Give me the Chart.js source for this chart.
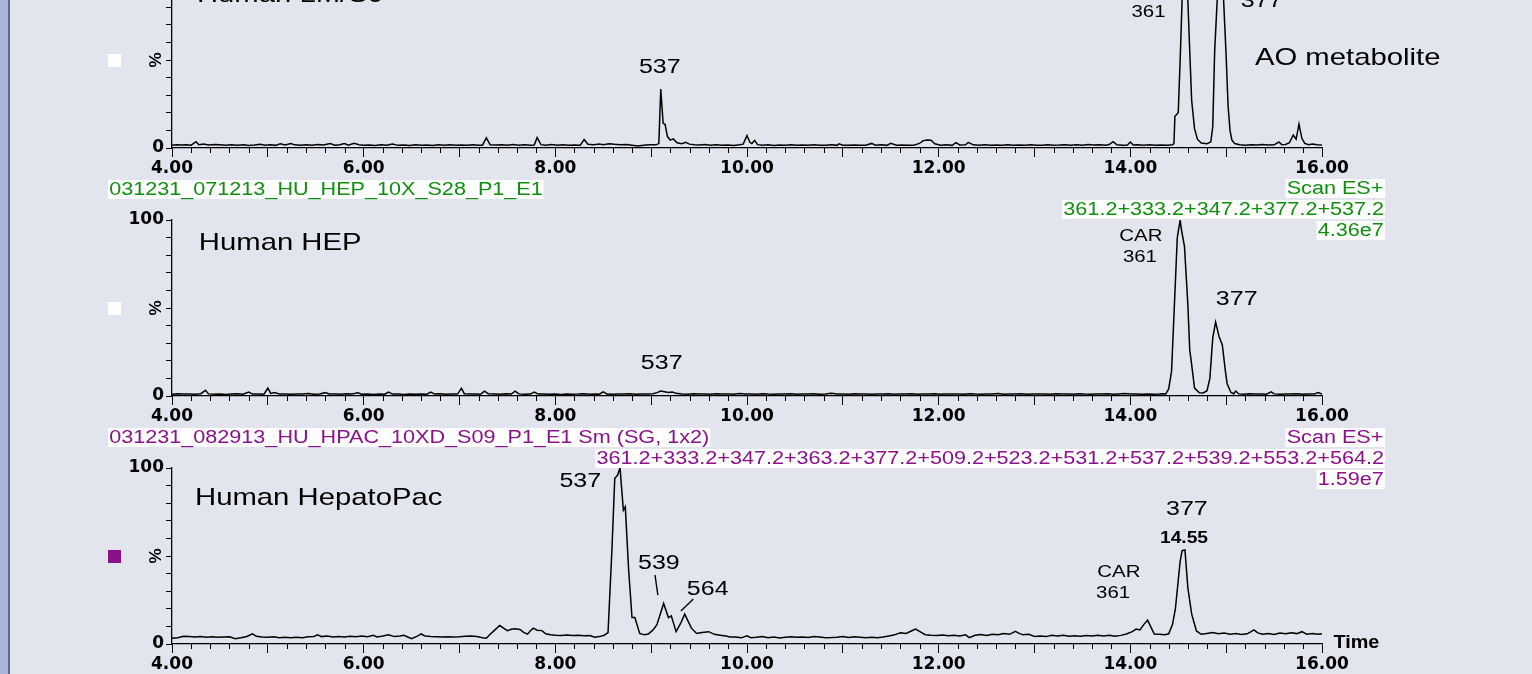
<!DOCTYPE html>
<html>
<head>
<meta charset="utf-8">
<script src="https://cdn.jsdelivr.net/npm/chart.js@4.4.1/dist/chart.umd.min.js"></script>
<style>
  html, body { margin: 0; padding: 0; }
  body { width: 1532px; height: 674px; background: #e2e5ee; position: relative; overflow: hidden;
         font-family: 'Liberation Sans', Arial, sans-serif; }
  .strip { position: absolute; top: 0; left: 0; width: 8px; height: 674px; background: #aab5db; }
  .strip2 { position: absolute; top: 0; left: 8px; width: 2px; height: 674px; background: #5d678a; }
  canvas.panel { position: absolute; left: 0; }
  .hdr { position: absolute; background: #fff; font-size: 18px; line-height: 19px; height: 19px;
         white-space: nowrap; padding: 0 1px; z-index: 5; }
  .hdr.l { transform: scaleX(1.2); transform-origin: 0 50%; }
  .hdr.r { transform: scaleX(1.2); transform-origin: 100% 50%; }
  .green { color: #0f8f0f; }
  .purple { color: #8b118b; }
</style>
</head>
<body>
<div class="strip"></div><div class="strip2"></div>
<canvas id="c1" class="panel" width="1532" height="252"></canvas>
<canvas id="c2" class="panel" width="1532" height="252"></canvas>
<canvas id="c3" class="panel" width="1532" height="252"></canvas>

<div class="hdr l green" style="left:108px;top:180px;">031231_071213_HU_HEP_10X_S28_P1_E1</div>
<div class="hdr r green" style="right:147px;top:179px;">Scan ES+</div>
<div class="hdr r green" style="right:147px;top:200px;">361.2+333.2+347.2+377.2+537.2</div>
<div class="hdr r green" style="right:147px;top:221px;">4.36e7</div>

<div class="hdr l purple" style="left:108px;top:428px;">031231_082913_HU_HPAC_10XD_S09_P1_E1 Sm (SG, 1x2)</div>
<div class="hdr r purple" style="right:147px;top:428px;">Scan ES+</div>
<div class="hdr r purple" style="right:147px;top:449px;">361.2+333.2+347.2+363.2+377.2+509.2+523.2+531.2+537.2+539.2+553.2+564.2</div>
<div class="hdr r purple" style="right:147px;top:470px;">1.59e7</div>

<script>
// ---------------- DATA ----------------
const xTickMin = 4, xTickMax = 16;
const yTickLabels = ['0', '100'];

// Panel 1: Human LM/S9 (retention time, min / relative intensity, %)
const hlmTime = [4.00,4.05,4.10,4.15,4.20,4.25,4.28,4.33,4.38,4.45,4.50,4.56,4.62,4.68,4.75,4.80,4.86,4.92,4.97,5.03,
  5.08,5.13,5.18,5.24,5.28,5.34,5.40,5.46,5.52,5.58,5.65,5.70,5.75,5.80,5.84,5.90,5.95,6.00,6.06,6.12,
  6.18,6.24,6.30,6.36,6.42,6.48,6.54,6.60,6.66,6.72,6.78,6.84,6.90,6.96,7.02,7.08,7.14,7.20,7.24,7.28,
  7.32,7.38,7.44,7.50,7.56,7.62,7.68,7.74,7.78,7.81,7.85,7.90,7.96,8.02,8.08,8.14,8.20,8.26,8.30,8.34,
  8.40,8.46,8.50,8.56,8.62,8.68,8.74,8.80,8.86,8.92,8.98,9.05,9.08,9.10,9.125,9.145,9.17,9.20,9.23,9.27,
  9.32,9.36,9.40,9.45,9.50,9.56,9.62,9.68,9.74,9.80,9.86,9.92,9.96,10.00,10.03,10.05,10.08,10.11,10.16,10.22,
  10.28,10.34,10.40,10.46,10.52,10.58,10.64,10.70,10.76,10.82,10.88,10.94,10.96,11.00,11.05,11.12,11.18,11.24,11.30,11.34,
  11.40,11.46,11.50,11.56,11.62,11.68,11.74,11.80,11.84,11.88,11.92,11.96,12.02,12.08,12.14,12.18,12.22,12.28,12.31,12.36,
  12.42,12.48,12.54,12.60,12.66,12.72,12.78,12.84,12.90,12.96,13.02,13.08,13.14,13.20,13.26,13.32,13.38,13.44,13.50,13.56,
  13.62,13.68,13.74,13.78,13.82,13.86,13.92,13.97,14.00,14.03,14.08,14.14,14.20,14.26,14.32,14.38,14.44,14.455,14.465,14.50,
  14.52,14.54,14.57,14.60,14.62,14.64,14.67,14.70,14.74,14.80,14.84,14.86,14.88,14.91,14.94,14.97,15.00,15.02,15.04,15.06,
  15.09,15.14,15.20,15.26,15.32,15.38,15.44,15.50,15.55,15.58,15.62,15.66,15.70,15.73,15.76,15.79,15.82,15.86,15.90,15.95,16.00];
const hlmPct = [1.6,1.9,1.7,1.8,1.6,3.6,1.9,2.2,1.7,2.0,1.8,1.5,1.9,1.6,1.8,1.4,1.7,2.1,1.6,1.9,
  1.5,2.4,1.7,2.6,1.8,1.6,1.9,1.5,2.0,1.7,2.6,1.6,1.8,2.5,1.6,2.7,1.8,1.5,1.7,1.4,
  1.8,1.6,2.3,1.5,1.7,1.4,1.8,1.5,1.7,1.4,1.9,1.6,1.8,1.5,1.7,1.5,1.8,1.5,1.6,5.8,
  1.9,1.7,1.9,1.5,2.0,1.6,1.8,1.5,1.7,5.9,1.9,1.6,2.0,1.5,1.8,1.5,1.7,1.6,4.8,2.1,
  1.8,2.3,1.9,2.4,2.1,1.9,2.0,1.6,1.2,1.6,1.9,1.8,2.5,33.5,14,13.5,6.5,4.5,5.2,3.0,
  2.4,3.2,2.2,1.8,1.7,2.0,1.6,1.8,1.5,1.7,1.4,1.8,2.2,7.0,3.2,2.5,4.3,1.9,1.6,1.8,
  1.4,1.7,1.5,1.8,1.6,1.7,1.5,1.9,1.6,1.5,1.8,1.5,2.4,1.6,1.5,1.7,1.5,1.6,2.6,1.6,
  1.8,1.5,2.7,1.6,1.7,1.5,1.6,2.6,4.2,4.6,4.4,2.4,1.6,1.8,1.5,3.0,1.7,1.8,3.2,1.8,
  1.6,1.9,1.5,1.7,1.5,1.8,1.6,1.7,1.5,1.8,1.6,1.5,1.8,1.6,1.7,1.9,1.6,1.8,1.6,2.0,
  1.7,1.9,1.6,2.0,3.6,1.8,1.6,1.7,3.4,1.7,1.9,1.6,1.8,1.5,1.7,1.6,1.8,2.5,18,20,
  50,84,100,84,55,27,11,5,2.8,2.4,3.5,12,55,88,96,88,52,24,10,4.5,
  2.5,1.8,1.6,1.8,1.7,2.0,1.7,1.8,3.4,1.9,2.0,3.0,7.4,5.0,13.6,5.5,2.6,1.9,2.2,1.8,1.7];

// Panel 2: Human HEP
const hepTime = [4.00,4.06,4.12,4.18,4.24,4.30,4.35,4.38,4.44,4.50,4.56,4.62,4.68,4.74,4.80,4.84,4.90,4.96,5.00,5.03,
  5.07,5.12,5.18,5.24,5.30,5.36,5.42,5.48,5.54,5.60,5.64,5.70,5.76,5.82,5.88,5.94,5.98,6.04,6.10,6.16,
  6.22,6.26,6.30,6.36,6.42,6.48,6.54,6.60,6.66,6.70,6.74,6.80,6.86,6.92,6.98,7.02,7.05,7.10,7.16,7.22,
  7.26,7.30,7.36,7.42,7.48,7.54,7.58,7.62,7.68,7.74,7.78,7.82,7.88,7.94,8.00,8.06,8.12,8.18,8.24,8.30,
  8.36,8.42,8.46,8.50,8.54,8.60,8.66,8.72,8.78,8.84,8.90,8.96,9.02,9.06,9.10,9.14,9.18,9.22,9.26,9.32,
  9.38,9.44,9.50,9.56,9.62,9.68,9.74,9.80,9.86,9.92,9.98,10.04,10.10,10.16,10.22,10.28,10.34,10.40,10.46,10.52,
  10.58,10.64,10.70,10.76,10.82,10.88,10.94,11.00,11.06,11.12,11.18,11.24,11.30,11.36,11.42,11.48,11.54,11.60,11.66,11.72,
  11.78,11.84,11.90,11.96,12.02,12.08,12.14,12.20,12.26,12.32,12.38,12.44,12.50,12.56,12.62,12.68,12.74,12.80,12.86,12.92,
  12.98,13.04,13.10,13.16,13.22,13.28,13.34,13.40,13.46,13.52,13.58,13.64,13.70,13.76,13.82,13.88,13.94,14.00,14.06,14.12,
  14.18,14.24,14.30,14.34,14.37,14.40,14.43,14.46,14.49,14.52,14.535,14.565,14.60,14.62,14.635,14.67,14.72,14.76,14.80,14.83,
  14.86,14.89,14.925,14.96,14.99,15.01,15.05,15.08,15.10,15.13,15.18,15.24,15.30,15.36,15.42,15.47,15.50,15.56,15.62,15.68,
  15.74,15.80,15.86,15.92,15.96,16.00];
const hepPct = [1.0,1.3,1.1,1.2,1.0,1.3,3.2,1.2,1.0,1.2,0.9,1.1,1.3,1.0,2.2,1.1,1.2,1.0,4.5,1.5,
  2.0,1.1,1.2,1.0,1.2,1.1,1.4,1.0,1.1,1.9,1.1,1.2,1.0,1.3,1.1,1.8,1.0,1.1,0.9,1.2,
  1.0,2.2,1.1,1.2,0.9,1.1,1.0,1.2,1.0,2.2,1.1,1.3,1.0,1.2,1.1,4.4,1.3,1.1,1.2,1.0,
  2.8,1.3,1.2,1.0,1.3,1.1,2.8,1.2,1.0,1.1,2.2,1.1,1.2,1.0,1.1,0.9,1.2,1.0,1.1,1.3,
  1.0,1.2,1.0,2.4,1.1,1.0,1.2,1.1,1.3,1.0,1.2,1.1,1.3,1.9,2.8,2.4,2.0,2.3,1.5,1.2,
  1.0,1.3,1.1,1.2,1.0,1.3,1.1,1.2,1.0,1.4,1.1,1.2,1.0,1.3,1.1,1.0,1.2,1.1,1.3,1.0,
  1.2,1.1,1.3,1.0,1.2,1.6,1.1,1.2,1.0,1.3,1.1,1.2,1.0,1.2,1.1,1.3,1.0,1.2,1.1,1.3,
  1.0,1.2,1.1,1.3,1.0,1.2,1.1,1.2,1.0,1.3,1.1,1.0,1.2,1.1,1.4,1.0,1.2,1.1,1.3,1.0,
  1.2,1.1,1.2,1.0,1.3,1.1,1.2,1.0,1.3,1.1,1.0,1.2,1.1,1.3,1.0,1.2,1.4,1.1,1.2,1.0,
  1.1,1.0,1.1,1.3,1.2,4,14,52,90,100,94,85,52,26,20,4.5,1.8,1.7,3,10,
  33,42,34,29,15,7,2,1.3,2.8,1.2,1.0,1.3,1.1,1.2,1.0,2.4,1.2,1.0,1.2,1.1,
  1.3,1.0,1.2,1.1,2.0,1.1];

// Panel 3: Human HepatoPac
const hpacTime = [4.00,4.06,4.12,4.18,4.24,4.30,4.36,4.42,4.48,4.54,4.60,4.66,4.72,4.78,4.84,4.88,4.94,5.00,5.06,5.12,
  5.18,5.24,5.30,5.36,5.42,5.48,5.52,5.56,5.62,5.68,5.74,5.80,5.86,5.92,5.98,6.04,6.10,6.14,6.20,6.26,
  6.32,6.38,6.42,6.46,6.50,6.56,6.60,6.64,6.70,6.76,6.82,6.88,6.94,7.00,7.06,7.12,7.18,7.24,7.28,7.32,
  7.37,7.42,7.46,7.50,7.54,7.58,7.63,7.67,7.71,7.74,7.77,7.81,7.86,7.90,7.95,8.00,8.06,8.12,8.18,8.24,
  8.30,8.36,8.41,8.46,8.51,8.55,8.59,8.62,8.65,8.675,8.71,8.73,8.765,8.80,8.83,8.88,8.93,8.97,9.02,9.06,
  9.13,9.18,9.21,9.26,9.31,9.35,9.42,9.475,9.53,9.60,9.66,9.72,9.78,9.82,9.88,9.94,10.00,10.04,10.10,10.16,
  10.22,10.28,10.34,10.40,10.46,10.52,10.58,10.64,10.70,10.76,10.82,10.88,10.94,11.00,11.06,11.12,11.18,11.24,11.30,11.36,
  11.42,11.48,11.54,11.60,11.66,11.72,11.76,11.80,11.86,11.92,11.98,12.04,12.10,12.16,12.22,12.28,12.32,12.38,12.44,12.50,
  12.56,12.62,12.68,12.74,12.80,12.84,12.88,12.94,13.00,13.06,13.12,13.18,13.24,13.30,13.36,13.42,13.48,13.54,13.60,13.66,
  13.72,13.78,13.84,13.90,13.96,14.02,14.06,14.10,14.14,14.18,14.22,14.25,14.30,14.36,14.40,14.44,14.47,14.52,14.54,14.57,
  14.60,14.64,14.69,14.74,14.80,14.86,14.92,14.98,15.04,15.10,15.16,15.22,15.26,15.29,15.33,15.38,15.44,15.50,15.56,15.62,
  15.68,15.74,15.79,15.84,15.90,15.96,16.00];
const hpacPct = [3.2,3.6,4.4,4.2,4.0,4.2,3.9,4.1,3.8,4.0,4.1,3.0,3.6,4.3,5.8,4.4,4.0,3.8,4.1,3.6,
  3.9,3.5,3.8,3.6,4.1,4.3,5.2,4.2,4.6,4.0,4.3,4.0,4.4,4.1,4.5,4.1,5.0,4.0,4.6,5.3,
  4.2,4.6,5.0,4.0,3.0,4.5,5.7,4.6,4.2,4.1,4.0,4.1,4.0,4.1,4.4,4.6,4.2,3.5,3.3,5.5,
  8.0,10.5,9.0,7.6,8.4,8.6,8.3,6.6,5.6,7.5,9.0,7.8,7.6,5.8,5.2,5.0,4.9,5.1,4.8,5.0,
  4.7,4.8,3.8,4.2,5.0,6.5,53,94,96,100,76,78,42,15,15,6,5.2,5.7,8,11,
  23,15,16,7,12,17,9,6,6.5,7,5.5,5,4.5,4,4.0,3.5,4.6,3.6,3.8,4.2,
  3.6,4.0,3.4,3.9,4.1,3.8,4.0,3.7,4.3,4.0,3.6,3.7,3.9,4.2,3.7,4.1,3.9,3.6,3.8,3.5,
  4.0,4.6,5.2,6.4,6.0,7.5,8.5,7.2,5.3,5.0,4.8,5.1,4.7,5.0,4.6,5.2,3.6,5.0,5.4,4.9,
  5.5,5.2,5.9,5.5,7.2,6.0,5.2,5.5,4.3,4.6,4.2,5.0,4.6,5.0,4.4,4.7,4.4,4.8,4.5,4.9,
  4.6,5.0,4.4,4.9,5.7,7.0,8.5,8.0,11,13.6,9,5.7,5.5,5.2,5.8,11,20,47,53,53.4,
  32,17,7.4,5.5,6.0,6.5,5.8,6.2,5.6,5.9,5.4,5.8,7.0,8.0,6.3,5.6,6.0,5.4,6.2,5.8,
  6.4,5.9,7.0,5.6,6.0,5.5,5.8];

// ---------------- ANNOTATIONS (text, in data coordinates) ----------------
const FONT = "'Liberation Sans', Arial, sans-serif";
const styles = {
  title: { font: `24px ${FONT}`, sx: 1.22, align: 'left' },
  peak:  { font: `20px ${FONT}`, sx: 1.25, align: 'center' },
  small: { font: `17px ${FONT}`, sx: 1.2, align: 'center' },
  rt:    { font: `bold 16px ${FONT}`, sx: 1.2, align: 'center' },
  time:  { font: `bold 18px ${FONT}`, sx: 1.1, align: 'left' }
};
const ann1 = {
  square: '#ffffff',
  texts: [
    { s: 'title', t: 4.26, v: 86.9, text: 'Human LM/S9' },
    { s: 'peak', t: 9.09, v: 46.0, text: '537' },
    { s: 'small', t: 14.19, v: 77.3, text: '361' },
    { s: 'peak', t: 15.37, v: 83.0, text: '377' },
    { s: 'title', t: 15.30, v: 51.1, text: 'AO metabolite' }
  ],
  lines: []
};
const ann2 = {
  square: '#ffffff',
  texts: [
    { s: 'title', t: 4.28, v: 86.9, text: 'Human HEP' },
    { s: 'small', t: 14.11, v: 90.9, text: 'CAR' },
    { s: 'small', t: 14.10, v: 79.0, text: '361' },
    { s: 'peak', t: 15.11, v: 55.1, text: '377' },
    { s: 'peak', t: 9.11, v: 18.75, text: '537' }
  ],
  lines: []
};
const ann3 = {
  square: '#8b118b',
  texts: [
    { s: 'title', t: 4.24, v: 83.0, text: 'Human HepatoPac' },
    { s: 'peak', t: 8.26, v: 92.6, text: '537' },
    { s: 'peak', t: 9.08, v: 45.5, text: '539' },
    { s: 'peak', t: 9.59, v: 30.7, text: '564' },
    { s: 'small', t: 13.88, v: 40.9, text: 'CAR' },
    { s: 'small', t: 13.82, v: 29.0, text: '361' },
    { s: 'peak', t: 14.59, v: 76.7, text: '377' },
    { s: 'rt', t: 14.56, v: 59.7, text: '14.55' },
    { s: 'time', t: 16.12, v: 0.6, text: 'Time' }
  ],
  lines: [
    { t1: 9.04, v1: 39.2, t2: 9.07, v2: 27.8 },
    { t1: 9.31, v1: 18.8, t2: 9.44, v2: 25.6 }
  ]
};

// ---------------- LAYOUT ----------------
const PADT = 40, PLOT_H = 176, XAH = 36, Y_AXIS_W = 172, RIGHT_PAD = 210;
const zeroY = [148, 396, 644];

const isInt = v => Math.abs(v - Math.round(v)) < 1e-6;

const annPlugin = {
  id: 'ann',
  afterDraw(chart, args, opts) {
    const ctx = chart.ctx, xs = chart.scales.x, ys = chart.scales.y, ca = chart.chartArea;
    ctx.save();
    // minor x ticks
    ctx.strokeStyle = '#000'; ctx.lineWidth = 1;
    xs.ticks.forEach(tk => {
      if (!isInt(tk.value)) {
        const px = Math.round(xs.getPixelForValue(tk.value)) + 0.5;
        ctx.beginPath(); ctx.moveTo(px, ca.bottom); ctx.lineTo(px, ca.bottom + 5); ctx.stroke();
      }
    });
    // % axis label and colour square
    const midY = ys.getPixelForValue(50);
    ctx.save();
    ctx.translate(156, midY); ctx.rotate(-Math.PI / 2);
    ctx.font = `bold 17px ${FONT}`; ctx.fillStyle = '#000'; ctx.textAlign = 'center'; ctx.textBaseline = 'middle';
    ctx.fillText('%', 0, 0);
    ctx.restore();
    ctx.fillStyle = opts.square; ctx.fillRect(108, Math.round(midY) - 6, 13, 13);
    // texts
    (opts.texts || []).forEach(a => {
      const st = styles[a.s];
      ctx.save();
      ctx.translate(xs.getPixelForValue(a.t), ys.getPixelForValue(a.v));
      ctx.scale(st.sx, 1);
      ctx.font = st.font; ctx.fillStyle = '#000'; ctx.textAlign = st.align; ctx.textBaseline = 'middle';
      ctx.fillText(a.text, 0, 0);
      ctx.restore();
    });
    // leader lines
    ctx.strokeStyle = '#000'; ctx.lineWidth = 1.4;
    (opts.lines || []).forEach(l => {
      ctx.beginPath();
      ctx.moveTo(xs.getPixelForValue(l.t1), ys.getPixelForValue(l.v1));
      ctx.lineTo(xs.getPixelForValue(l.t2), ys.getPixelForValue(l.v2));
      ctx.stroke();
    });
    ctx.restore();
  }
};

function makePanel(id, idx, times, pcts, ann) {
  const canvas = document.getElementById(id);
  canvas.style.top = (zeroY[idx] - PLOT_H - PADT) + 'px';
  canvas.style.width = '1532px';
  canvas.style.height = (PADT + PLOT_H + XAH) + 'px';
  const tickFont = { family: "'DejaVu Sans', 'Liberation Sans', Arial, sans-serif", size: 17, weight: 'bold' };
  return new Chart(canvas, {
    type: 'line',
    data: {
      datasets: [{
        data: times.map((t, i) => ({ x: t, y: pcts[i] })),
        borderColor: '#000', borderWidth: 1.5, pointRadius: 0, tension: 0, fill: false
      }]
    },
    options: {
      animation: false, responsive: false, devicePixelRatio: 1,
      layout: { padding: { top: PADT, right: RIGHT_PAD, left: 0, bottom: 0 } },
      plugins: { legend: { display: false }, tooltip: { enabled: false }, ann: ann },
      scales: {
        x: {
          type: 'linear', min: xTickMin, max: xTickMax,
          afterFit: s => { s.height = XAH; },
          border: { display: true, color: '#000', width: 1.3 },
          grid: { display: true, drawOnChartArea: false, drawTicks: true, tickLength: 9, color: '#000',
                  tickColor: c => (c.tick && isInt(c.tick.value)) ? '#000' : 'rgba(0,0,0,0)' },
          ticks: {
            stepSize: 0.2, autoSkip: false, maxRotation: 0, minRotation: 0, padding: 1,
            color: '#000', font: tickFont,
            callback: v => {
              const r = Math.round(v * 5) / 5;
              return (isInt(r) && Math.round(r) % 2 === 0) ? r.toFixed(2) : '';
            }
          }
        },
        y: {
          min: 0, max: 100,
          afterFit: s => { s.width = Y_AXIS_W; },
          border: { display: true, color: '#000', width: 1.3 },
          grid: { display: true, drawOnChartArea: false, drawTicks: true, tickLength: 6, color: '#000' },
          ticks: {
            stepSize: 10, autoSkip: false, padding: 2, color: '#000', font: tickFont,
            callback: v => yTickLabels.includes(String(v)) ? String(v) : ''
          }
        }
      }
    },
    plugins: [annPlugin]
  });
}

makePanel('c1', 0, hlmTime, hlmPct, ann1);
makePanel('c2', 1, hepTime, hepPct, ann2);
makePanel('c3', 2, hpacTime, hpacPct, ann3);
</script>
</body>
</html>
